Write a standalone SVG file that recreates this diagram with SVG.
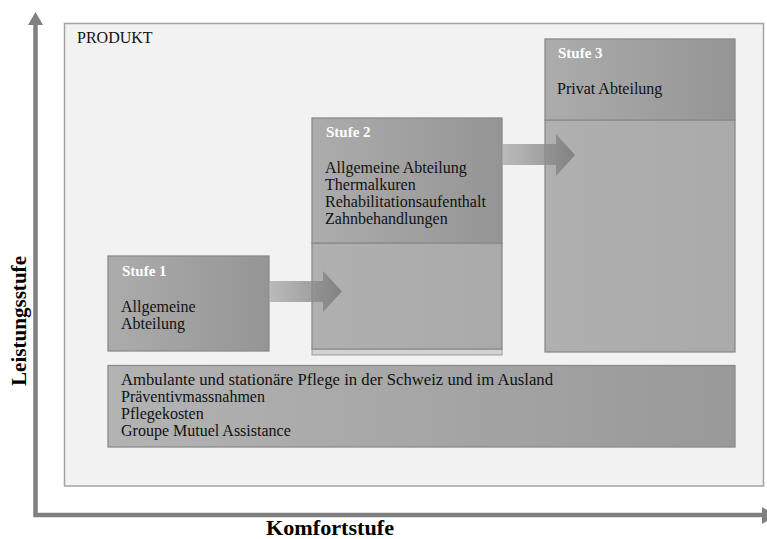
<svg xmlns="http://www.w3.org/2000/svg" width="767" height="539" viewBox="0 0 767 539">
<defs>
<linearGradient id="hdr" x1="0" y1="0" x2="1" y2="0">
<stop offset="0" stop-color="#acacac"/>
<stop offset="1" stop-color="#959595"/>
</linearGradient>
<linearGradient id="low" x1="0" y1="0" x2="1" y2="0">
<stop offset="0" stop-color="#b0b0b0"/>
<stop offset="1" stop-color="#aaaaaa"/>
</linearGradient>
<linearGradient id="base" x1="0" y1="0" x2="1" y2="0">
<stop offset="0" stop-color="#b3b3b3"/>
<stop offset="1" stop-color="#999999"/>
</linearGradient>
<linearGradient id="arr" x1="0" y1="0" x2="1" y2="0">
<stop offset="0" stop-color="#a8a8a8" stop-opacity="0.75"/>
<stop offset="0.6" stop-color="#8c8c8c" stop-opacity="0.8"/>
<stop offset="1" stop-color="#7a7a7a" stop-opacity="0.85"/>
</linearGradient>
<style>
.box{stroke:#8a8a8a;stroke-width:1.3}
.t{font-family:"Liberation Serif","Times New Roman",serif;font-size:16px;fill:#111}
.h{font-family:"Liberation Serif","Times New Roman",serif;font-size:15px;font-weight:bold;fill:#ffffff}
.ax{font-family:"Liberation Serif","Times New Roman",serif;font-size:21px;font-weight:bold;fill:#000}
</style>
</defs>
<rect width="767" height="539" fill="#ffffff"/>
<g id="axes">
<path d="M35.5 22 V515 H764" fill="none" stroke="#808080" stroke-width="4.5"/>
<polygon points="35.5,12 28,25 43,25" fill="#808080"/>
<polygon points="762,507 762,524 776,515.5" fill="#808080"/>
<text class="ax" x="330" y="535" text-anchor="middle" textLength="128" lengthAdjust="spacingAndGlyphs">Komfortstufe</text>
<text class="ax" transform="translate(26,321) rotate(-90)" text-anchor="middle" textLength="130" lengthAdjust="spacingAndGlyphs">Leistungsstufe</text>
</g>
<g id="produkt">
<rect x="64.5" y="23.5" width="699" height="462.5" fill="#f2f2f2" stroke="#a3a3a3" stroke-width="1.5"/>
<text class="t" x="77" y="43">PRODUKT</text>
</g>
<g id="basis">
<rect class="box" x="108" y="365.5" width="627" height="81.5" fill="url(#base)"/>
<text class="t" x="121" y="385" textLength="432" lengthAdjust="spacingAndGlyphs">Ambulante und stationäre Pflege in der Schweiz und im Ausland</text>
<text class="t" x="121" y="402">Präventivmassnahmen</text>
<text class="t" x="121" y="419">Pflegekosten</text>
<text class="t" x="121" y="436">Groupe Mutuel Assistance</text>
</g>
<g id="stufe1">
<rect class="box" x="108" y="256" width="161" height="95" fill="url(#hdr)"/>
<text class="h" x="122" y="276">Stufe 1</text>
<text class="t" x="121" y="312">Allgemeine</text>
<text class="t" x="121" y="329">Abteilung</text>
</g>
<g id="stufe2">
<rect x="312" y="349" width="190" height="6" fill="#d2d2d2" stroke="#9a9a9a" stroke-width="1"/>
<rect class="box" x="312" y="243" width="190" height="106" fill="url(#low)"/>
<rect class="box" x="312" y="118" width="190" height="125" fill="url(#hdr)"/>
<text class="h" x="326" y="137">Stufe 2</text>
<text class="t" x="325" y="173">Allgemeine Abteilung</text>
<text class="t" x="325" y="190">Thermalkuren</text>
<text class="t" x="325" y="207">Rehabilitationsaufenthalt</text>
<text class="t" x="325" y="224">Zahnbehandlungen</text>
</g>
<g id="stufe3">
<rect class="box" x="545" y="120" width="190" height="232" fill="url(#low)"/>
<rect class="box" x="545" y="39" width="190" height="81" fill="url(#hdr)"/>
<text class="h" x="558" y="58">Stufe 3</text>
<text class="t" x="557" y="94">Privat Abteilung</text>
</g>
<g id="connectors">
<polygon points="269,281 323,281 323,271 342,291.5 323,312 323,302 269,302" fill="url(#arr)"/>
<polygon points="502,144 556,144 556,134 575,155 556,176 556,165 502,165" fill="url(#arr)"/>
</g>
</svg>
